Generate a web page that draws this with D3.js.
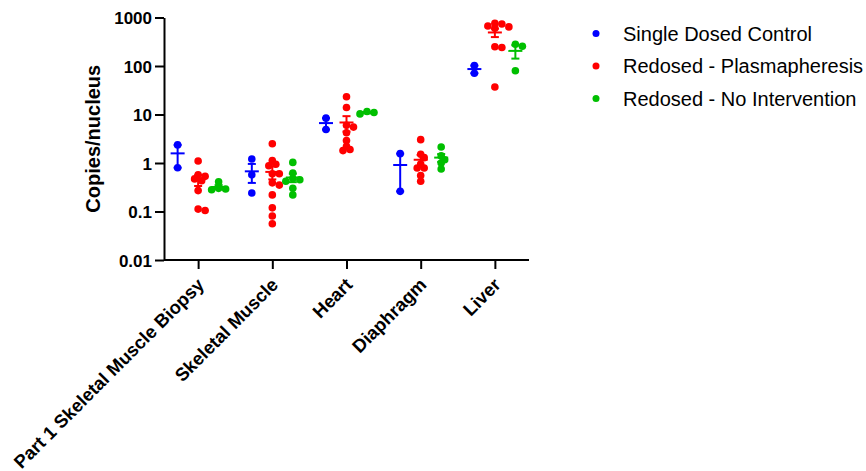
<!DOCTYPE html>
<html>
<head>
<meta charset="utf-8">
<script src="https://cdn.jsdelivr.net/npm/d3@7"></script>
<style>
  body { margin: 0; background: #fff; }
  svg { font-family: Arial, "Liberation Sans", sans-serif; }
  .axis path, .axis line { stroke: #000; stroke-width: 2px; }
  .axis text { font-weight: bold; font-size: 17px; fill: #000; }
</style>
</head>
<body>
<div id="chart"></div>
<script>
// tissues on the x axis
const categories = ['Part 1 Skeletal Muscle Biopsy', 'Skeletal Muscle', 'Heart', 'Diaphragm', 'Liver'];
const seriesNames = ['Single Dosed Control', 'Redosed - Plasmapheresis', 'Redosed - No Intervention'];
const seriesColors = ['#0000ff', '#ff0000', '#00bf00'];

// copies / nucleus, one inner array per tissue
const singleDosed = [
  [2.36, 0.80],
  [1.21, 0.57, 0.24],
  [8.4, 4.9],
  [1.56, 0.26],
  [102, 71]
];
const plasmapheresis = [
  [1.10, 0.57, 0.53, 0.47, 0.43, 0.27, 0.112, 0.105],
  [2.5, 1.13, 0.94, 0.88, 0.60, 0.60, 0.39, 0.35, 0.22, 0.119, 0.081, 0.056],
  [23.2, 13.9, 6.0, 5.5, 4.2, 2.9, 2.2, 1.9, 1.8],
  [3.03, 1.51, 1.29, 0.95, 0.79, 0.79, 0.55, 0.42],
  [760, 736, 669, 640, 600, 250, 240, 37]
];
const noIntervention = [
  [0.41, 0.30, 0.29, 0.28],
  [1.03, 0.62, 0.48, 0.45, 0.42, 0.30, 0.22],
  [10.3, 11.5, 11.0],
  [2.14, 1.4, 1.17, 1.0, 0.75],
  [280, 255, 80]
];
const yTicks = [0.01, 0.1, 1, 10, 100, 1000];

const seriesData = [singleDosed, plasmapheresis, noIntervention];

const width = 866, height = 471;
const plot = {left: 164, right: 529, top: 17.5, bottom: 260};
const dotR = 3.8;

const svg = d3.select('#chart').append('svg')
    .attr('width', width)
    .attr('height', height);

const x = d3.scalePoint()
    .domain(categories)
    .range([plot.left, plot.right])
    .padding(0.46);

const xSub = d3.scalePoint()
    .domain(seriesNames)
    .range([-20.5, 20.5]);

const y = d3.scaleLog()
    .domain([0.01, 1000])
    .range([plot.bottom, plot.top]);

// groups: one per series per tissue
const groups = [];
seriesNames.forEach((s, si) => {
  categories.forEach((c, ci) => {
    const vals = seriesData[si][ci];
    const mean = d3.mean(vals);
    const sem = d3.deviation(vals) / Math.sqrt(vals.length);
    groups.push({series: s, si, category: c, values: vals, mean, sem,
      cx: x(c) + xSub(s)});
  });
});

// simple swarm layout so overlapping points spread sideways
function swarm(g) {
  const placed = [];
  const sorted = g.values.slice().sort((a, b) => b - a);
  sorted.forEach(v => {
    const py = y(v);
    let k = 0, off = 0;
    while (true) {
      off = k === 0 ? 0 : (k % 2 ? 1 : -1) * Math.ceil(k / 2) * 3.5;
      const hit = placed.some(p => Math.hypot(p.x - off, p.y - py) < 4.6);
      if (!hit) break;
      k++;
    }
    placed.push({x: off, y: py, v});
  });
  return placed.map(p => ({x: g.cx + p.x, y: p.y, color: seriesColors[g.si]}));
}

const points = groups.flatMap(swarm);

// axes
const xAxis = svg.append('g')
    .attr('class', 'axis')
    .attr('transform', `translate(0,${plot.bottom})`)
    .call(d3.axisBottom(x).tickSize(9).tickSizeOuter(0).tickFormat(''));
xAxis.select('.domain').attr('d', `M${plot.left},0H${plot.right}`);

const yAxis = svg.append('g')
    .attr('class', 'axis')
    .attr('transform', `translate(${plot.left},0)`)
    .call(d3.axisLeft(y).tickValues(yTicks).tickSize(9).tickSizeOuter(0)
      .tickPadding(3).tickFormat(d => d3.format('~g')(d)));
yAxis.selectAll('text').attr('dy', '0.36em');

// rotated category labels
svg.append('g')
  .selectAll('text')
  .data(categories)
  .join('text')
    .attr('transform', d => `translate(${x(d) + 7},${plot.bottom + 26}) rotate(-45)`)
    .attr('text-anchor', 'end')
    .style('font-weight', 'bold')
    .style('font-size', '18.4px')
    .text(d => d);

// y title
svg.append('text')
    .attr('transform', `translate(100,${(plot.top + plot.bottom) / 2}) rotate(-90)`)
    .attr('text-anchor', 'middle')
    .style('font-weight', 'bold')
    .style('font-size', '20px')
    .text('Copies/nucleus');

// dots
svg.append('g')
  .selectAll('circle')
  .data(points)
  .join('circle')
    .attr('cx', d => d.x)
    .attr('cy', d => d.y)
    .attr('r', dotR)
    .attr('fill', d => d.color);

// mean +/- SEM
const bars = svg.append('g')
  .selectAll('g')
  .data(groups)
  .join('g')
    .attr('stroke', d => seriesColors[d.si])
    .attr('stroke-width', 2);

bars.append('line')
    .attr('x1', d => d.cx - 7).attr('x2', d => d.cx + 7)
    .attr('y1', d => y(d.mean)).attr('y2', d => y(d.mean));
bars.append('line')
    .attr('x1', d => d.cx).attr('x2', d => d.cx)
    .attr('y1', d => y(d.mean + d.sem)).attr('y2', d => y(Math.max(d.mean - d.sem, 0.011)));
bars.append('line')
    .attr('x1', d => d.cx - 4).attr('x2', d => d.cx + 4)
    .attr('y1', d => y(d.mean + d.sem)).attr('y2', d => y(d.mean + d.sem));
bars.append('line')
    .attr('x1', d => d.cx - 4).attr('x2', d => d.cx + 4)
    .attr('y1', d => y(Math.max(d.mean - d.sem, 0.011))).attr('y2', d => y(Math.max(d.mean - d.sem, 0.011)));

// legend
const legend = svg.append('g')
    .attr('transform', 'translate(596,33.5)');
const items = legend.selectAll('g')
  .data(seriesNames)
  .join('g')
    .attr('transform', (d, i) => `translate(0,${i * 32.5})`);
items.append('circle')
    .attr('r', 3.5)
    .attr('fill', (d, i) => seriesColors[i]);
items.append('text')
    .attr('x', 27)
    .attr('dy', '0.35em')
    .style('font-size', '20px')
    .text(d => d);
</script>
</body>
</html>
